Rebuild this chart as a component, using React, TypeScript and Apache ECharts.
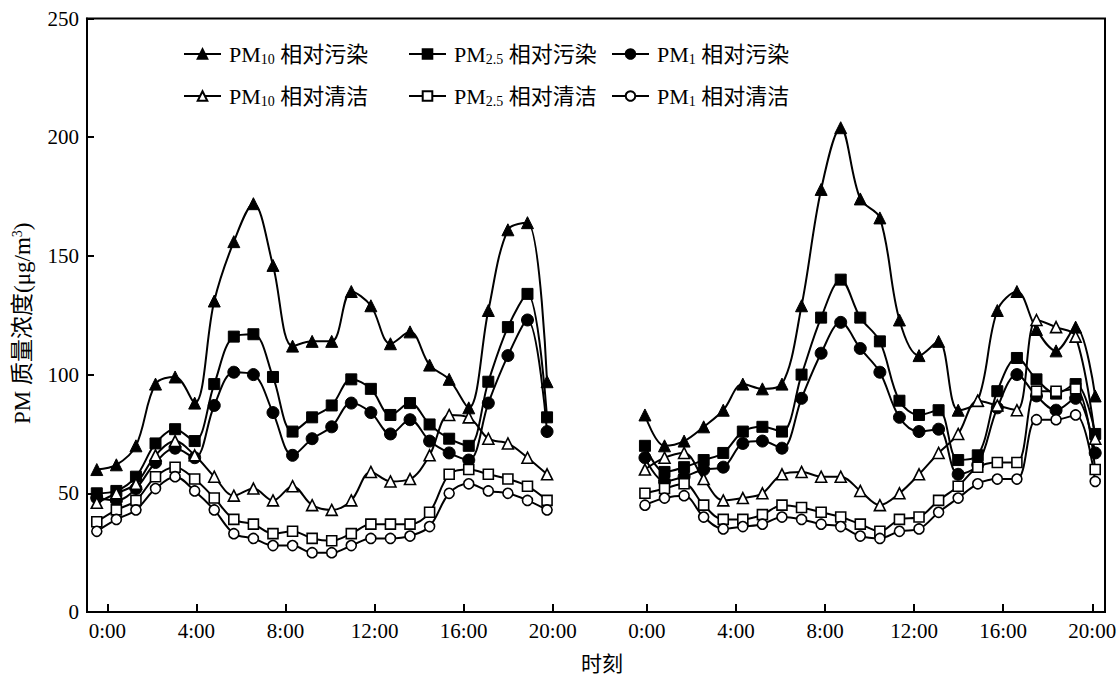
import React, { useEffect, useRef } from "react";
import * as echarts from "echarts";

// ---- data (µg/m³), day 1 and day 2 samples, 24 each ----
const pm10PollutedD1 = [60, 62, 70, 96, 99, 88, 131, 156, 172, 146, 112, 114, 114, 135, 129, 113, 118, 104, 98, 86, 127, 161, 164, 97];
const pm10PollutedD2 = [83, 70, 72, 78, 85, 96, 94, 96, 129, 178, 204, 174, 166, 123, 108, 114, 85, 89, 127, 135, 119, 110, 120, 91];
const pm25PollutedD1 = [50, 51, 57, 71, 77, 72, 96, 116, 117, 99, 76, 82, 87, 98, 94, 83, 88, 79, 73, 70, 97, 120, 134, 82];
const pm25PollutedD2 = [70, 59, 61, 64, 67, 76, 78, 76, 100, 124, 140, 124, 114, 89, 83, 85, 64, 66, 93, 107, 98, 92, 96, 75];
const pm1PollutedD1 = [48, 47, 52, 63, 69, 65, 87, 101, 100, 84, 66, 73, 78, 88, 84, 75, 81, 72, 67, 64, 88, 108, 123, 76];
const pm1PollutedD2 = [65, 55, 57, 60, 61, 71, 72, 69, 90, 109, 122, 111, 101, 82, 76, 77, 58, 62, 86, 100, 91, 85, 90, 67];
const pm10CleanD1 = [46, 50, 54, 66, 72, 66, 57, 49, 52, 47, 53, 45, 43, 47, 59, 55, 56, 66, 83, 82, 73, 71, 65, 58];
const pm10CleanD2 = [60, 65, 67, 56, 47, 48, 50, 58, 59, 57, 57, 51, 45, 50, 58, 67, 75, 89, 87, 85, 123, 120, 116, 73];
const pm25CleanD1 = [38, 43, 47, 57, 61, 56, 48, 39, 37, 33, 34, 31, 30, 33, 37, 37, 37, 42, 58, 60, 58, 56, 53, 47];
const pm25CleanD2 = [50, 52, 54, 45, 39, 39, 41, 45, 44, 42, 40, 37, 34, 39, 40, 47, 53, 61, 63, 63, 93, 93, 94, 60];
const pm1CleanD1 = [34, 39, 43, 52, 57, 51, 43, 33, 31, 28, 28, 25, 25, 28, 31, 31, 32, 36, 50, 54, 51, 50, 47, 43];
const pm1CleanD2 = [45, 48, 49, 40, 35, 36, 37, 40, 39, 37, 36, 32, 31, 34, 35, 42, 48, 54, 56, 56, 81, 81, 83, 55];

const tickLabels = ["0:00", "4:00", "8:00", "12:00", "16:00", "20:00"];
const tickHours = [0, 4, 8, 12, 16, 20];
const yTicks = [0, 50, 100, 150, 200, 250];

// ---- layout of the sample axis ----
const samplesPerDay = 24;
const gapSlots = 4;
const dayStartSlot = [0.54, 28.1]; // slot position of 0:00 for each day
const slotsPerHour = 1.1375;

const slots: string[] = [];
for (let d = 0; d < 2; d++) {
  for (let i = 0; i < samplesPerDay; i++) slots.push(`D${d + 1}-${i}`);
  if (d === 0) for (let g = 0; g < gapSlots; g++) slots.push(`gap-${g}`);
}
const joinDays = (a: number[], b: number[]) => [...a, ...Array(gapSlots).fill(null), ...b];

const tickPositions: number[] = [];
const tickTexts: string[] = [];
dayStartSlot.forEach((s) => {
  tickHours.forEach((h, k) => {
    tickPositions.push(+(s + h * slotsPerHour).toFixed(3));
    tickTexts.push(tickLabels[k]);
  });
});

const FONT = "'Liberation Serif', 'Times New Roman', 'Noto Sans CJK SC', serif";

const seriesDefs = [
  { name: "PM10 相对污染", data: joinDays(pm10PollutedD1, pm10PollutedD2), symbol: "triangle", size: 12, hollow: false },
  { name: "PM2.5 相对污染", data: joinDays(pm25PollutedD1, pm25PollutedD2), symbol: "rect", size: 11, hollow: false },
  { name: "PM1 相对污染", data: joinDays(pm1PollutedD1, pm1PollutedD2), symbol: "circle", size: 12, hollow: false },
  { name: "PM10 相对清洁", data: joinDays(pm10CleanD1, pm10CleanD2), symbol: "triangle", size: 11, hollow: true },
  { name: "PM2.5 相对清洁", data: joinDays(pm25CleanD1, pm25CleanD2), symbol: "rect", size: 10, hollow: true },
  { name: "PM1 相对清洁", data: joinDays(pm1CleanD1, pm1CleanD2), symbol: "circle", size: 10, hollow: true },
];

const legendPos = [
  { left: 183, top: 43 },
  { left: 408, top: 43 },
  { left: 611, top: 43 },
  { left: 183, top: 85 },
  { left: 408, top: 85 },
  { left: 611, top: 85 },
];

export default function App() {
  const ref = useRef<HTMLDivElement>(null);
  useEffect(() => {
    if (!ref.current) return;
    const chart = echarts.init(ref.current, null, { renderer: "svg" });
    const legendFormatter = (name: string) => name.replace(/^PM(10|2\.5|1) /, "PM{sub|$1} ");
    chart.setOption({
      animation: false,
      backgroundColor: "#fff",
      textStyle: { fontFamily: FONT },
      grid: {
        left: 87,
        right: 13,
        top: 18.5,
        bottom: 64,
        containLabel: false,
        outerBoundsMode: "none",
        show: true,
        borderColor: "#000",
        borderWidth: 2,
        backgroundColor: "transparent",
      },
      legend: seriesDefs.map((s, i) => ({
        data: [s.name],
        left: legendPos[i].left,
        top: legendPos[i].top,
        itemWidth: 37,
        itemHeight: 12,
        padding: 0,
        formatter: legendFormatter,
        selectedMode: false,
        textStyle: {
          fontFamily: FONT,
          fontSize: 22,
          color: "#000",
          padding: [0, 0, 0, 3],
          rich: {
            sub: { fontFamily: FONT, fontSize: 14, color: "#000", verticalAlign: "bottom", padding: [10, 0, 0, 0] },
          },
        },
      })),
      xAxis: [
        {
          type: "category",
          data: slots,
          boundaryGap: true,
          axisLine: { onZero: false, lineStyle: { color: "#000", width: 2 } },
          axisTick: { show: false },
          axisLabel: { show: false },
          splitLine: { show: false },
        },
        {
          type: "value",
          position: "bottom",
          min: -0.5,
          max: slots.length - 0.5,
          axisLine: { show: false, onZero: false },
          splitLine: { show: false },
          axisTick: {
            show: true,
            inside: true,
            length: 8,
            customValues: tickPositions,
            lineStyle: { color: "#000", width: 2 },
          },
          axisLabel: {
            show: true,
            customValues: tickPositions,
            margin: 8,
            fontFamily: FONT,
            fontSize: 21,
            color: "#000",
            formatter: (v: number) => {
              const k = tickPositions.findIndex((p) => Math.abs(p - v) < 1e-3);
              return k >= 0 ? tickTexts[k] : "";
            },
          },
          name: "时刻",
          nameLocation: "middle",
          nameGap: 41,
          nameTextStyle: { fontFamily: FONT, fontSize: 21, color: "#000", padding: [0, 0, 0, 12] },
        },
      ],
      yAxis: {
        type: "value",
        min: yTicks[0],
        max: yTicks[yTicks.length - 1],
        interval: 50,
        axisLine: { show: true, onZero: false, lineStyle: { color: "#000", width: 2 } },
        axisTick: { show: true, inside: true, length: 7, lineStyle: { color: "#000", width: 2 } },
        axisLabel: { fontFamily: FONT, fontSize: 21, color: "#000", margin: 8 },
        splitLine: { show: false },
        name: "PM 质量浓度(μg/m{sup|3})",
        nameLocation: "middle",
        nameGap: 53,
        nameRotate: 90,
        nameTextStyle: {
          fontFamily: FONT,
          fontSize: 23,
          color: "#000",
          padding: [0, 16, 0, 0],
          rich: {
            sup: { fontFamily: FONT, fontSize: 14, color: "#000", verticalAlign: "top", padding: [0, 0, 10, 0] },
          },
        },
      },
      series: seriesDefs.map((s) => ({
        name: s.name,
        type: "line",
        xAxisIndex: 0,
        yAxisIndex: 0,
        data: s.data,
        smooth: 0.35,
        connectNulls: false,
        symbol: s.symbol,
        symbolSize: s.size,
        showSymbol: true,
        lineStyle: { color: "#000", width: 2 },
        itemStyle: s.hollow
          ? { color: "#fff", borderColor: "#000", borderWidth: 1.6 }
          : { color: "#000", borderColor: "#000", borderWidth: 1 },
        emphasis: { disabled: true },
      })),
    });
    return () => chart.dispose();
  }, []);
  return <div ref={ref} style={{ position: "fixed", left: 0, top: 0, width: 1118, height: 676 }} />;
}
